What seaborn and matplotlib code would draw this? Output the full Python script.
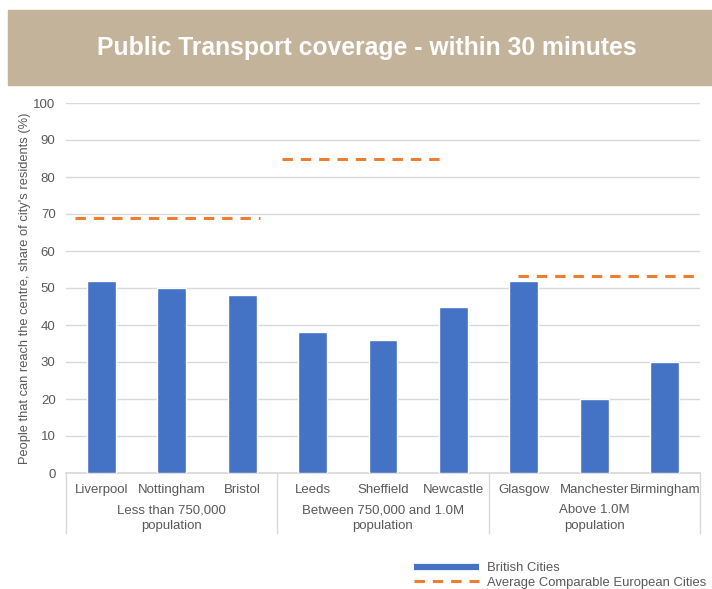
import matplotlib
matplotlib.use("Agg")
import matplotlib.pyplot as plt
import matplotlib.patches as mpatches
from matplotlib.lines import Line2D
from matplotlib.transforms import blended_transform_factory
import seaborn as sns
import pandas as pd

# --- data -------------------------------------------------------------
cities = ["Liverpool", "Nottingham", "Bristol",
          "Leeds", "Sheffield", "Newcastle",
          "Glasgow", "Manchester", "Birmingham"]
british = [52, 50, 48, 38, 36, 45, 52, 20, 30]

groups = ["Less than 750,000\npopulation",
          "Between 750,000 and 1.0M\npopulation",
          "Above 1.0M\npopulation"]
group_size = [3, 3, 3]
euro_avg = [69, 85, 53.3]
# horizontal extent of each European-average segment (category units)
euro_start = [-0.37, 2.57, 5.91]
euro_end = [2.26, 4.91, 8.47]

BLUE = "#4472C4"
ORANGE = "#ED7D31"
GREY = "#595959"
GRID = "#D9D9D9"
BANNER = "#C4B39B"

sns.set_theme(style="white")
plt.rcParams["font.family"] = ["Liberation Sans", "DejaVu Sans"]

fig = plt.figure(figsize=(7.12, 5.89), dpi=100)

# title banner
fig.patches.append(mpatches.Rectangle((8 / 712, 1 - 85 / 589), 704 / 712, 75 / 589,
                                      transform=fig.transFigure, color=BANNER, zorder=0))
fig.text(0.515, 1 - 47.5 / 589, "Public Transport coverage - within 30 minutes",
         ha="center", va="center", color="white", fontsize=17.8, fontweight="bold")

ax = fig.add_axes([66 / 712, 1 - 473 / 589, 634 / 712, 370 / 589])

df = pd.DataFrame({"city": cities, "value": british})
sns.barplot(data=df, x="city", y="value", color=BLUE, width=0.41,
            saturation=1, ax=ax, zorder=3)

for y0, x0, x1 in zip(euro_avg, euro_start, euro_end):
    ax.plot([x0, x1], [y0, y0], color=ORANGE, lw=2.2, dashes=(3.4, 2.6),
            solid_capstyle="butt", zorder=4)

ax.set_xlim(-0.5, len(cities) - 0.5)
ax.set_ylim(0, 100)
ax.set_yticks(range(0, 101, 10))
ax.yaxis.grid(True, color=GRID, lw=1)
ax.set_axisbelow(True)
for s in ["top", "right", "left"]:
    ax.spines[s].set_visible(False)
ax.spines["bottom"].set_color(GRID)
ax.tick_params(axis="y", length=0, labelsize=9.5, labelcolor=GREY, pad=7.5)
ax.tick_params(axis="x", length=0, labelsize=9.5, labelcolor=GREY, pad=8)
ax.set_xlabel("")
ax.set_ylabel("People that can reach the centre, share of city's residents (%)",
              fontsize=9.3, color=GREY, labelpad=1.5)

# group labels and separators under the axis
trans = blended_transform_factory(ax.transData, ax.transAxes)
edges = [-0.5]
for n in group_size:
    edges.append(edges[-1] + n)
for xe in edges:
    ax.plot([xe, xe], [0, -60 / 370], color=GRID, lw=1, transform=trans,
            clip_on=False)
for g, a, b in zip(groups, edges[:-1], edges[1:]):
    ax.text((a + b) / 2, -45 / 370, g, transform=trans, ha="center", va="center",
            fontsize=9.5, color=GREY, linespacing=1.35)

# legend
handles = [Line2D([], [], color=BLUE, lw=4.5, solid_capstyle="butt"),
           Line2D([], [], color=ORANGE, lw=2.2, dashes=(3.4, 2.6))]
fig.legend(handles, ["British Cities", "Average Comparable European Cities"],
           loc="upper left", bbox_to_anchor=(414 / 712, 1 - 562 / 589),
           frameon=False, fontsize=9.4, handlelength=5.0, handletextpad=0.6,
           labelspacing=0.2, borderaxespad=0, borderpad=0,
           labelcolor=GREY)

fig.savefig("out.png", dpi=100)
